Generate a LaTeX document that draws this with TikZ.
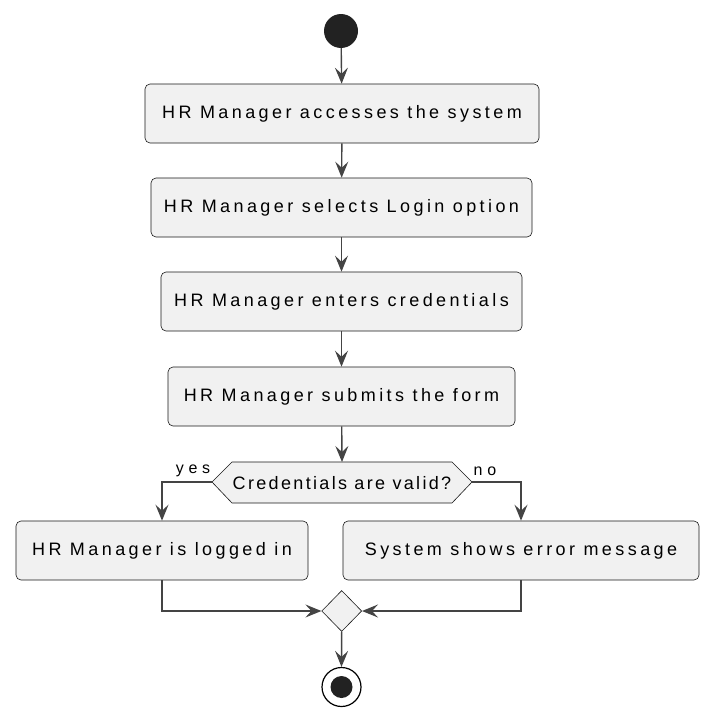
\documentclass[tikz,border=0pt]{standalone}
\usepackage{fontspec}
\setmainfont{Liberation Sans}
\newfontfamily\boxfont[LetterSpace=19]{Liberation Sans}
\newfontfamily\hexfont[LetterSpace=13]{Liberation Sans}
\newfontfamily\lblfont[LetterSpace=30]{Liberation Sans}
\usetikzlibrary{arrows.meta,shapes.geometric}
\definecolor{boxfill}{HTML}{F1F1F1}
\definecolor{boxline}{HTML}{181818}
\definecolor{arrowc}{HTML}{444444}
\definecolor{dotc}{HTML}{222222}
\tikzset{
  actbox/.style={draw=boxline, fill=boxfill, line width=0.6pt, rounded corners=5pt,
    minimum height=59pt, inner sep=0pt, font=\boxfont\fontsize{18}{21}\selectfont, text=black},
  flow/.style={draw=arrowc, line width=1.4pt, -{Stealth[length=16pt,width=13pt,inset=6pt]}},
  lbl/.style={font=\lblfont\fontsize{16}{18}\selectfont, inner sep=0pt}
}
\begin{document}
\begin{tikzpicture}[x=1pt,y=-1pt]
\useasboundingbox (0,0) rectangle (709,723);
\node[circle, fill=dotc, minimum size=34pt, inner sep=0pt] (start) at (341,31) {};
\node[actbox, minimum width=394pt] (b1) at (342,113.5) {HR Manager accesses the system};
\node[actbox, minimum width=381pt] (b2) at (341.5,207.5) {HR Manager selects Login option};
\node[actbox, minimum width=361pt] (b3) at (341.5,301.5) {HR Manager enters credentials};
\node[actbox, minimum width=347pt] (b4) at (341.5,396.5) {HR Manager submits the form};
% decision hexagon
\coordinate (hexL) at (212,482);
\coordinate (hexR) at (472,482);
\coordinate (hexT) at (342,462);
\filldraw[fill=boxfill, draw=boxline, line width=0.6pt]
  (hexL) -- (232,462) -- (452,462) -- (hexR) -- (452,503) -- (232,503) -- cycle;
\node[font=\hexfont\fontsize{18}{21}\selectfont, inner sep=0pt] (hex) at (342,483) {Credentials are valid?};
\node[actbox, minimum width=292pt] (bl) at (162,550.5) {HR Manager is logged in};
\node[actbox, minimum width=356pt] (br) at (521,550.5) {System shows error message};
\node[diamond, draw=boxline, fill=boxfill, line width=0.6pt, minimum width=40pt, minimum height=41pt, inner sep=0pt] (merge) at (341.7,611) {};
\node[circle, draw=black, line width=1.2pt, fill=white, minimum size=39pt, inner sep=0pt] (end) at (341.5,687) {};
\node[circle, fill=dotc, minimum size=22pt, inner sep=0pt] (endin) at (341.5,687) {};
\node[lbl] (yes) at (193,471) {yes};
\node[lbl] (no) at (485,471) {no};
% connectors
\draw[flow] (start) -- (b1);
\draw[flow] (b1) -- (b2);
\draw[flow] (b2) -- (b3);
\draw[flow] (b3) -- (b4);
\draw[flow] (b4) -- (hexT);
\draw[flow] (hexL) -| (bl.north);
\draw[flow] (hexR) -| (br.north);
\draw[flow] (bl.south) |- (merge.west);
\draw[flow] (br.south) |- (merge.east);
\draw[flow] (merge.south) -- (end.north);
\end{tikzpicture}
\end{document}
